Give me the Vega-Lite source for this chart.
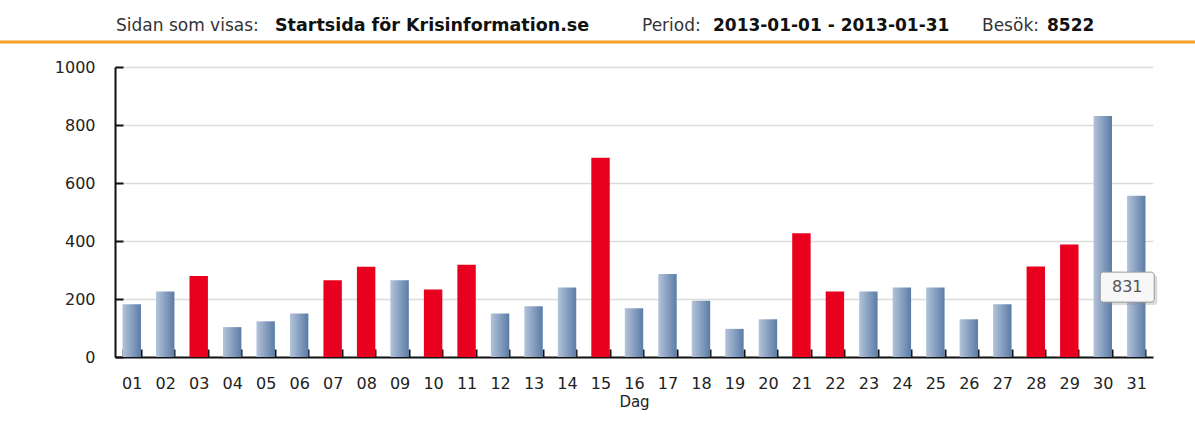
{
  "$schema": "https://vega.github.io/schema/vega-lite/v6.json",
  "width": 1038,
  "height": 290,
  "autosize": "none",
  "padding": {"left": 115, "top": 67, "right": 42, "bottom": 67},
  "background": "white",
  "config": {"view": {"stroke": null}, "font": "DejaVu Sans"},
  "datasets": {
    "visits": [
      {"dag": "01", "besok": 182, "markerad": "nej"},
      {"dag": "02", "besok": 226, "markerad": "nej"},
      {"dag": "03", "besok": 279, "markerad": "ja"},
      {"dag": "04", "besok": 103, "markerad": "nej"},
      {"dag": "05", "besok": 123, "markerad": "nej"},
      {"dag": "06", "besok": 150, "markerad": "nej"},
      {"dag": "07", "besok": 265, "markerad": "ja"},
      {"dag": "08", "besok": 311, "markerad": "ja"},
      {"dag": "09", "besok": 265, "markerad": "nej"},
      {"dag": "10", "besok": 233, "markerad": "ja"},
      {"dag": "11", "besok": 318, "markerad": "ja"},
      {"dag": "12", "besok": 150, "markerad": "nej"},
      {"dag": "13", "besok": 175, "markerad": "nej"},
      {"dag": "14", "besok": 240, "markerad": "nej"},
      {"dag": "15", "besok": 687, "markerad": "ja"},
      {"dag": "16", "besok": 168, "markerad": "nej"},
      {"dag": "17", "besok": 286, "markerad": "nej"},
      {"dag": "18", "besok": 194, "markerad": "nej"},
      {"dag": "19", "besok": 97, "markerad": "nej"},
      {"dag": "20", "besok": 130, "markerad": "nej"},
      {"dag": "21", "besok": 427, "markerad": "ja"},
      {"dag": "22", "besok": 226, "markerad": "ja"},
      {"dag": "23", "besok": 226, "markerad": "nej"},
      {"dag": "24", "besok": 240, "markerad": "nej"},
      {"dag": "25", "besok": 240, "markerad": "nej"},
      {"dag": "26", "besok": 130, "markerad": "nej"},
      {"dag": "27", "besok": 182, "markerad": "nej"},
      {"dag": "28", "besok": 312, "markerad": "ja"},
      {"dag": "29", "besok": 388, "markerad": "ja"},
      {"dag": "30", "besok": 831, "markerad": "nej"},
      {"dag": "31", "besok": 556, "markerad": "nej"}
    ]
  },
  "layer": [
    {
      "data": {"name": "visits"},
      "mark": {"type": "bar"},
      "encoding": {
        "x": {
          "field": "dag",
          "type": "ordinal",
          "sort": null,
          "scale": {"paddingInner": 0.45, "paddingOuter": 0.225},
          "axis": {
            "title": "Dag",
            "titleFont": "DejaVu Sans",
            "titleFontSize": 15,
            "titleFontWeight": "normal",
            "titleColor": "#222222",
            "titlePadding": 3,
            "labelAngle": 0,
            "labelFont": "DejaVu Sans",
            "labelFontSize": 16,
            "labelColor": "#222222",
            "labelPadding": 26,
            "domainColor": "#111111",
            "domainWidth": 2,
            "tickColor": "#111111",
            "tickWidth": 2,
            "tickSize": -8,
            "tickBand": "extent",
            "grid": false
          }
        },
        "y": {
          "field": "besok",
          "type": "quantitative",
          "scale": {"domain": [0, 1000], "nice": false},
          "axis": {
            "title": null,
            "values": [0, 100, 200, 300, 400, 500, 600, 700, 800, 900, 1000],
            "labelExpr": "datum.value % 200 === 0 ? datum.label : ''",
            "format": "d",
            "labelFont": "DejaVu Sans",
            "labelFontSize": 16,
            "labelColor": "#222222",
            "labelPadding": 28,
            "domainColor": "#111111",
            "domainWidth": 2,
            "tickColor": "#111111",
            "tickWidth": 2,
            "tickSize": -8,
            "grid": true,
            "gridColor": "#dcdcdc",
            "gridWidth": 1.5,
            "gridOpacity": {"condition": {"test": "datum.value % 200 === 0 && datum.value > 0", "value": 1}, "value": 0}
          }
        },
        "color": {
          "condition": {"test": "datum.markerad === 'ja'", "value": "#e8001e"},
          "value": {
            "gradient": "linear",
            "x1": 0, "x2": 1, "y1": 0, "y2": 0,
            "stops": [
              {"offset": 0, "color": "#b3c3da"},
              {"offset": 1, "color": "#5b7ca6"}
            ]
          }
        }
      }
    },
    {
      "data": {"values": [{}]},
      "mark": {"type": "rule", "color": "#f4a024", "strokeWidth": 3},
      "encoding": {"x": {"value": -115}, "x2": {"value": 1080}, "y": {"value": -25}}
    },
    {
      "data": {"values": [{}]},
      "mark": {"type": "text", "text": "Sidan som visas:", "font": "DejaVu Sans", "fontSize": 17, "color": "#333333", "align": "left", "baseline": "middle"},
      "encoding": {"x": {"value": 1}, "y": {"value": -41}}
    },
    {
      "data": {"values": [{}]},
      "mark": {"type": "text", "text": "Startsida för Krisinformation.se", "font": "DejaVu Sans", "fontSize": 17.5, "fontWeight": "bold", "color": "#111111", "align": "left", "baseline": "middle"},
      "encoding": {"x": {"value": 160}, "y": {"value": -41}}
    },
    {
      "data": {"values": [{}]},
      "mark": {"type": "text", "text": "Period:", "font": "DejaVu Sans", "fontSize": 17, "color": "#333333", "align": "left", "baseline": "middle"},
      "encoding": {"x": {"value": 527}, "y": {"value": -41}}
    },
    {
      "data": {"values": [{}]},
      "mark": {"type": "text", "text": "2013-01-01 - 2013-01-31", "font": "DejaVu Sans", "fontSize": 17, "fontWeight": "bold", "color": "#111111", "align": "left", "baseline": "middle"},
      "encoding": {"x": {"value": 598}, "y": {"value": -41}}
    },
    {
      "data": {"values": [{}]},
      "mark": {"type": "text", "text": "Besök:", "font": "DejaVu Sans", "fontSize": 17, "color": "#333333", "align": "left", "baseline": "middle"},
      "encoding": {"x": {"value": 867}, "y": {"value": -41}}
    },
    {
      "data": {"values": [{}]},
      "mark": {"type": "text", "text": "8522", "font": "DejaVu Sans", "fontSize": 17, "fontWeight": "bold", "color": "#111111", "align": "left", "baseline": "middle"},
      "encoding": {"x": {"value": 932}, "y": {"value": -41}}
    },
    {
      "data": {"name": "visits"},
      "transform": [{"filter": "datum.dag === '30'"}],
      "mark": {"type": "rect", "width": 54, "height": 30, "cornerRadius": 3, "fill": "#888888", "opacity": 0.3, "xOffset": -6, "yOffset": 3},
      "encoding": {"x": {"datum": "31", "type": "ordinal"}, "y": {"datum": 241, "type": "quantitative"}}
    },
    {
      "data": {"name": "visits"},
      "transform": [{"filter": "datum.dag === '30'"}],
      "mark": {"type": "rect", "width": 54, "height": 30, "cornerRadius": 3, "fill": "#f7f7f7", "stroke": "#9a9a9a", "strokeWidth": 1, "xOffset": -9},
      "encoding": {"x": {"datum": "31", "type": "ordinal"}, "y": {"datum": 241, "type": "quantitative"}}
    },
    {
      "data": {"name": "visits"},
      "transform": [{"filter": "datum.dag === '30'"}],
      "mark": {"type": "text", "font": "DejaVu Sans", "fontSize": 16, "color": "#555555", "xOffset": -9},
      "encoding": {"x": {"datum": "31", "type": "ordinal"}, "y": {"datum": 241, "type": "quantitative"}, "text": {"field": "besok", "type": "quantitative"}}
    }
  ]
}
